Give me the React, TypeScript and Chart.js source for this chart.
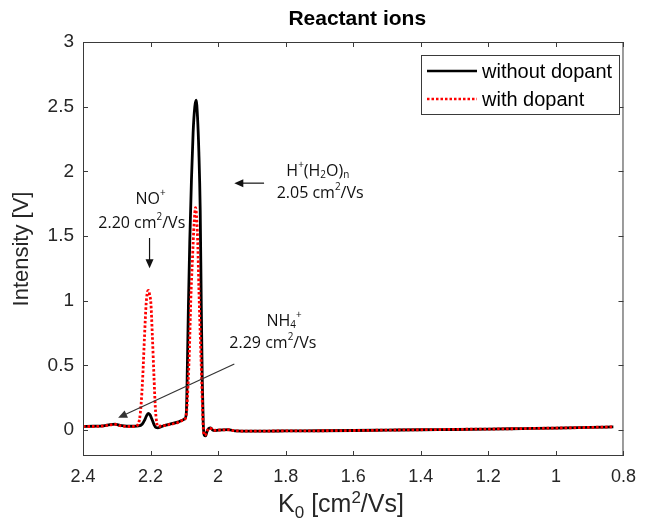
import React, { useEffect, useRef } from "react";
import { Chart, registerables } from "chart.js";

Chart.register(...registerables);

const chartTitle = "Reactant ions";
const seriesLabels = ["without dopant", "with dopant"];
const xTickValues = [2.4, 2.2, 2.0, 1.8, 1.6, 1.4, 1.2, 1.0, 0.8];
const yTickValues = [0, 0.5, 1, 1.5, 2, 2.5, 3];

const k0Without = [
  2.4, 2.37, 2.34, 2.32, 2.305, 2.29, 2.27, 2.25, 2.235, 2.225, 2.218, 2.212, 2.207, 2.202, 2.196, 2.19,
  2.184, 2.178, 2.16, 2.14, 2.12, 2.105, 2.098, 2.094, 2.091, 2.088, 2.084, 2.079, 2.074, 2.069, 2.065,
  2.061, 2.057, 2.053, 2.05, 2.047, 2.044, 2.041, 2.037, 2.033, 2.028, 2.022, 2.016, 2.01, 2.0, 1.97,
  1.95, 1.9, 1.85, 1.8, 1.7, 1.6, 1.5, 1.4, 1.3, 1.2, 1.1, 1.0, 0.9, 0.83,
];
const intensityWithout = [
  0.028, 0.03, 0.033, 0.042, 0.046, 0.036, 0.03, 0.03, 0.032, 0.045, 0.075, 0.11, 0.13, 0.12, 0.085, 0.045,
  0.02, 0.018, 0.035, 0.048, 0.062, 0.078, 0.09, 0.14, 0.5, 0.95, 1.45, 1.93, 2.3, 2.5, 2.55,
  2.42, 2.15, 1.7, 1.0, 0.4, 0.05, -0.04, -0.045, -0.01, 0.012, 0.018, 0.0, -0.004, 0.0, 0.004,
  -0.006, -0.008, -0.008, -0.006, -0.005, -0.003, 0.0, 0.003, 0.005, 0.008, 0.012, 0.016, 0.021, 0.025,
];

const k0With = [
  2.4, 2.37, 2.34, 2.32, 2.305, 2.29, 2.27, 2.25, 2.24, 2.233, 2.228, 2.223, 2.218, 2.213, 2.209, 2.206,
  2.203, 2.199, 2.195, 2.19, 2.186, 2.182, 2.178, 2.16, 2.14, 2.12, 2.105, 2.098, 2.093, 2.089, 2.085,
  2.081, 2.076, 2.071, 2.067, 2.063, 2.06, 2.057, 2.053, 2.049, 2.046, 2.043, 2.04, 2.036, 2.031, 2.026,
  2.02, 2.014, 2.0, 1.97, 1.95, 1.9, 1.85, 1.8, 1.7, 1.6, 1.5, 1.4, 1.3, 1.2, 1.1, 1.0, 0.9, 0.83,
];
const intensityWith = [
  0.028, 0.028, 0.032, 0.04, 0.044, 0.034, 0.028, 0.028, 0.035, 0.08, 0.2, 0.42, 0.72, 0.98, 1.07, 1.08,
  1.05, 0.98, 0.75, 0.42, 0.18, 0.06, 0.03, 0.035, 0.045, 0.058, 0.075, 0.085, 0.15, 0.35, 0.62,
  1.0, 1.32, 1.6, 1.72, 1.62, 1.42, 1.1, 0.75, 0.42, 0.15, -0.02, -0.04, -0.03, 0.0, 0.015,
  0.01, -0.002, 0.0, 0.003, -0.005, -0.008, -0.007, -0.006, -0.005, -0.003, 0.0, 0.003, 0.006, 0.008, 0.012, 0.016, 0.021, 0.025,
];

const seriesColors = ["#000000", "#ff0000"];

type Seg = { t: string; s?: "sup" | "sub" };

const SANS = "'Liberation Sans', Arial, sans-serif";
const ANNOT = "'Open Sans', 'Noto Sans', sans-serif";

function drawRich(
  ctx: CanvasRenderingContext2D,
  segs: Seg[],
  x: number,
  y: number,
  size: number,
  family: string,
  align: "left" | "center" | "right",
  weight = "",
  ratio = 0.62
) {
  const small = size * ratio;
  const fontFor = (s?: string) => `${weight} ${s ? small : size}px ${family}`.trim();
  let total = 0;
  const widths = segs.map((sg) => {
    ctx.font = fontFor(sg.s);
    const w = ctx.measureText(sg.t).width;
    total += w;
    return w;
  });
  let cx = align === "left" ? x : align === "center" ? x - total / 2 : x - total;
  ctx.textAlign = "left";
  segs.forEach((sg, i) => {
    ctx.font = fontFor(sg.s);
    const dy = sg.s === "sup" ? -size * 0.38 : sg.s === "sub" ? size * 0.22 : 0;
    ctx.fillText(sg.t, cx, y + dy);
    cx += widths[i];
  });
}

function arrow(ctx: CanvasRenderingContext2D, x1: number, y1: number, x2: number, y2: number, color: string) {
  const ang = Math.atan2(y2 - y1, x2 - x1);
  const hl = 9;
  const hw = 4;
  ctx.strokeStyle = color;
  ctx.fillStyle = color;
  ctx.lineWidth = 1.2;
  ctx.beginPath();
  ctx.moveTo(x1, y1);
  ctx.lineTo(x2 - Math.cos(ang) * hl * 0.8, y2 - Math.sin(ang) * hl * 0.8);
  ctx.stroke();
  ctx.beginPath();
  ctx.moveTo(x2, y2);
  ctx.lineTo(x2 - Math.cos(ang) * hl - Math.sin(ang) * hw, y2 - Math.sin(ang) * hl + Math.cos(ang) * hw);
  ctx.lineTo(x2 - Math.cos(ang) * hl + Math.sin(ang) * hw, y2 - Math.sin(ang) * hl - Math.cos(ang) * hw);
  ctx.closePath();
  ctx.fill();
}

const decorPlugin = {
  id: "decor",
  afterDatasetsDraw(chart: any) {
    const { ctx, chartArea: a, scales } = chart;
    const xs = scales.x;
    const ys = scales.y;
    const X = (v: number) => xs.getPixelForValue(v);
    const Y = (v: number) => ys.getPixelForValue(v);
    ctx.save();

    // box
    ctx.strokeStyle = "#3a3a3a";
    ctx.lineWidth = 1;
    ctx.strokeRect(a.left + 0.5, a.top + 0.5, a.right - a.left - 1, a.bottom - a.top - 1);

    // inward ticks
    ctx.beginPath();
    xTickValues.forEach((v) => {
      const px = Math.round(X(v)) + 0.5;
      ctx.moveTo(px, a.bottom);
      ctx.lineTo(px, a.bottom - 5);
      ctx.moveTo(px, a.top);
      ctx.lineTo(px, a.top + 5);
    });
    yTickValues.forEach((v) => {
      const py = Math.round(Y(v)) + 0.5;
      ctx.moveTo(a.left, py);
      ctx.lineTo(a.left + 5, py);
      ctx.moveTo(a.right, py);
      ctx.lineTo(a.right - 5, py);
    });
    ctx.stroke();

    // title
    ctx.fillStyle = "#000";
    ctx.textBaseline = "alphabetic";
    ctx.textAlign = "center";
    ctx.font = `bold 21px ${SANS}`;
    ctx.fillText(chartTitle, (a.left + a.right) / 2 + 4, 25);

    // axis titles
    ctx.fillStyle = "#262626";
    drawRich(
      ctx,
      [{ t: "K" }, { t: "0", s: "sub" }, { t: " [cm" }, { t: "2", s: "sup" }, { t: "/Vs]" }],
      341,
      512,
      25,
      SANS,
      "center",
      "",
      0.68
    );
    ctx.save();
    ctx.translate(28, (a.top + a.bottom) / 2);
    ctx.rotate(-Math.PI / 2);
    drawRich(ctx, [{ t: "Intensity [V]" }], 0, 0, 22, SANS, "center");
    ctx.restore();

    // annotations
    ctx.fillStyle = "#111";
    ctx.textBaseline = "middle";
    const unit = (n: string): Seg[] => [{ t: n + " cm" }, { t: "2", s: "sup" }, { t: "/Vs" }];
    drawRich(ctx, [{ t: "H" }, { t: "+", s: "sup" }, { t: "(H" }, { t: "2", s: "sub" }, { t: "O)" }, { t: "n", s: "sub" }], X(1.705), Y(2.0), 16, ANNOT, "center");
    drawRich(ctx, unit("2.05"), X(1.698), Y(1.827), 16, ANNOT, "center");
    drawRich(ctx, [{ t: "NO" }, { t: "+", s: "sup" }], X(2.2), Y(1.781), 16, ANNOT, "center");
    drawRich(ctx, unit("2.20"), X(2.226), Y(1.6), 16, ANNOT, "center");
    drawRich(ctx, [{ t: "NH" }, { t: "4", s: "sub" }, { t: "+", s: "sup" }], X(1.805), Y(0.84), 16, ANNOT, "center");
    drawRich(ctx, unit("2.29"), X(1.838), Y(0.672), 16, ANNOT, "center");

    arrow(ctx, X(1.864), Y(1.909), X(1.952), Y(1.909), "#111");
    arrow(ctx, X(2.203), Y(1.485), X(2.203), Y(1.252), "#111");
    arrow(ctx, X(1.952), Y(0.511), X(2.296), Y(0.095), "#333");

    // legend
    const lx = 421, ly = 55, lw = 198, lh = 59;
    ctx.fillStyle = "#fff";
    ctx.fillRect(lx, ly, lw, lh);
    ctx.strokeStyle = "#3a3a3a";
    ctx.lineWidth = 1;
    ctx.strokeRect(lx + 0.5, ly + 0.5, lw, lh);
    const rows = [71, 99];
    seriesLabels.forEach((lab, i) => {
      ctx.strokeStyle = seriesColors[i];
      ctx.lineWidth = 2.6;
      ctx.setLineDash(i === 1 ? [2.5, 2] : []);
      ctx.beginPath();
      ctx.moveTo(427, rows[i]);
      ctx.lineTo(477, rows[i]);
      ctx.stroke();
      ctx.setLineDash([]);
      ctx.fillStyle = "#000";
      ctx.font = `20px ${SANS}`;
      ctx.textAlign = "left";
      ctx.textBaseline = "middle";
      ctx.fillText(lab, 482, rows[i] + 1);
    });

    ctx.restore();
  },
};

export default function App() {
  const ref = useRef<HTMLCanvasElement | null>(null);
  useEffect(() => {
    document.body.style.margin = "0";
    const canvas = ref.current;
    if (!canvas) return;
    const toPts = (xs: number[], ys: number[]) => xs.map((x, i) => ({ x, y: ys[i] }));
    const chart = new Chart(canvas, {
      type: "line",
      data: {
        datasets: [
          {
            label: seriesLabels[0],
            data: toPts(k0Without, intensityWithout),
            borderColor: seriesColors[0],
            borderWidth: 2.8,
            pointRadius: 0,
            cubicInterpolationMode: "monotone",
            order: 1,
          },
          {
            label: seriesLabels[1],
            data: toPts(k0With, intensityWith),
            borderColor: seriesColors[1],
            borderWidth: 2.8,
            borderDash: [2.5, 2],
            pointRadius: 0,
            cubicInterpolationMode: "monotone",
            order: 0,
          },
        ],
      },
      options: {
        responsive: false,
        animation: false,
        devicePixelRatio: 1,
        layout: { padding: { top: 42, right: 13, left: 0, bottom: 0 } },
        plugins: { legend: { display: false }, title: { display: false }, tooltip: { enabled: false } },
        scales: {
          x: {
            type: "linear",
            reverse: true,
            min: 0.8,
            max: 2.4,
            grid: { display: false, drawTicks: false },
            border: { display: false },
            afterBuildTicks: (s: any) => {
              s.ticks = xTickValues.map((v) => ({ value: v }));
            },
            afterFit: (s: any) => {
              s.height = 66;
            },
            ticks: {
              autoSkip: false,
              maxRotation: 0,
              padding: 10,
              color: "#262626",
              font: { family: SANS, size: 18 },
              callback: (v: any) => String(Math.round(Number(v) * 10) / 10),
            },
          },
          y: {
            type: "linear",
            min: -0.2,
            max: 3,
            grid: { display: false, drawTicks: false },
            border: { display: false },
            afterBuildTicks: (s: any) => {
              s.ticks = yTickValues.map((v) => ({ value: v }));
            },
            afterFit: (s: any) => {
              s.width = 83;
            },
            ticks: {
              autoSkip: false,
              padding: 9,
              color: "#262626",
              font: { family: SANS, size: 19 },
              callback: (v: any) => String(Math.round(Number(v) * 10) / 10),
            },
          },
        },
      },
      plugins: [decorPlugin],
    });
    return () => chart.destroy();
  }, []);
  return (
    <div style={{ width: 646, height: 522 }}>
      <canvas ref={ref} width={646} height={522} />
    </div>
  );
}
